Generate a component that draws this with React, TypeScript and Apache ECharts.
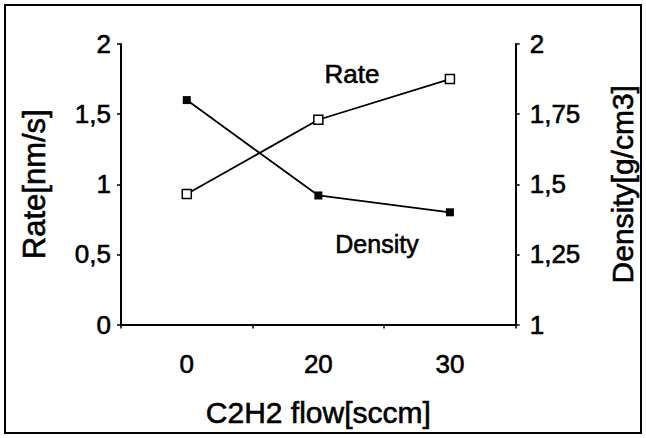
import React, { useEffect, useRef } from "react";
import * as echarts from "echarts";

const categories = ["0", "20", "30"];
const rateValues = [0.93, 1.46, 1.75];
const densityValues = [1.8, 1.46, 1.4];
const rateTicks = { min: 0, max: 2, interval: 0.5 };
const densityTicks = { min: 1, max: 2, interval: 0.25 };
const xTitle = "C2H2 flow[sccm]";
const leftTitle = "Rate[nm/s]";
const rightTitle = "Density[g/cm3]";

const FONT = "Liberation Sans";
const fmt = (v: number) => String(v).replace(".", ",");
const heavy = { textBorderColor: "#000", textBorderWidth: 0.6 };

export default function App() {
  const ref = useRef<HTMLDivElement>(null);
  useEffect(() => {
    if (!ref.current) return;
    const chart = echarts.init(ref.current, undefined, { renderer: "svg" });
    const axisLine = { show: true, lineStyle: { color: "#000", width: 2 } };
    const axisTick = { show: true, length: 4, lineStyle: { color: "#000", width: 1.5 } };
    chart.setOption({
      animation: false,
      backgroundColor: "#fff",
      grid: { left: 121, right: 126, top: 44, bottom: 113.5, containLabel: false },
      xAxis: {
        type: "category",
        data: categories,
        boundaryGap: true,
        axisLine,
        axisTick: { ...axisTick, alignWithLabel: false },
        axisLabel: { color: "#000", fontFamily: FONT, fontSize: 26, margin: 26, ...heavy },
        name: xTitle,
        nameLocation: "middle",
        nameGap: 73,
        nameTextStyle: { color: "#000", fontFamily: FONT, fontSize: 30, ...heavy },
        splitLine: { show: false },
      },
      yAxis: [
        {
          type: "value",
          position: "left",
          ...rateTicks,
          axisLine,
          axisTick,
          splitLine: { show: false },
          axisLabel: { color: "#000", fontFamily: FONT, fontSize: 26, margin: 10, formatter: fmt, ...heavy },
          name: leftTitle,
          nameLocation: "middle",
          nameGap: 71,
          nameRotate: 90,
          nameTextStyle: { color: "#000", fontFamily: FONT, fontSize: 31, ...heavy },
        },
        {
          type: "value",
          position: "right",
          ...densityTicks,
          axisLine,
          axisTick,
          splitLine: { show: false },
          axisLabel: { color: "#000", fontFamily: FONT, fontSize: 26, margin: 14, formatter: fmt, ...heavy },
          name: rightTitle,
          nameLocation: "middle",
          nameGap: 92,
          nameRotate: 90,
          nameTextStyle: { color: "#000", fontFamily: FONT, fontSize: 30, ...heavy },
        },
      ],
      series: [
        {
          name: "Rate",
          type: "line",
          yAxisIndex: 0,
          data: rateValues,
          symbol: "rect",
          symbolSize: 9,
          lineStyle: { color: "#000", width: 1.8 },
          itemStyle: { color: "#fff", borderColor: "#000", borderWidth: 1.5 },
          z: 3,
        },
        {
          name: "Density",
          type: "line",
          yAxisIndex: 1,
          data: densityValues,
          symbol: "rect",
          symbolSize: 8,
          lineStyle: { color: "#000", width: 1.8 },
          itemStyle: { color: "#000", borderColor: "#000", borderWidth: 0 },
          z: 3,
        },
      ],
      graphic: [
        {
          type: "rect",
          shape: { x: 5, y: 5, width: 636, height: 428 },
          style: { fill: "none", stroke: "#000", lineWidth: 2 },
          silent: true,
        },
        {
          type: "text",
          x: 352,
          y: 74,
          style: {
            text: "Rate",
            fill: "#000",
            stroke: "#000",
            lineWidth: 0.6,
            font: `26px "${FONT}"`,
            textAlign: "center",
            textVerticalAlign: "middle",
          },
        },
        {
          type: "text",
          x: 377,
          y: 244,
          style: {
            text: "Density",
            fill: "#000",
            stroke: "#000",
            lineWidth: 0.6,
            font: `25px "${FONT}"`,
            textAlign: "center",
            textVerticalAlign: "middle",
          },
        },
      ],
    });
    return () => chart.dispose();
  }, []);
  return (
    <div
      ref={ref}
      style={{ position: "fixed", left: 0, top: 0, width: 646, height: 438 }}
    />
  );
}
